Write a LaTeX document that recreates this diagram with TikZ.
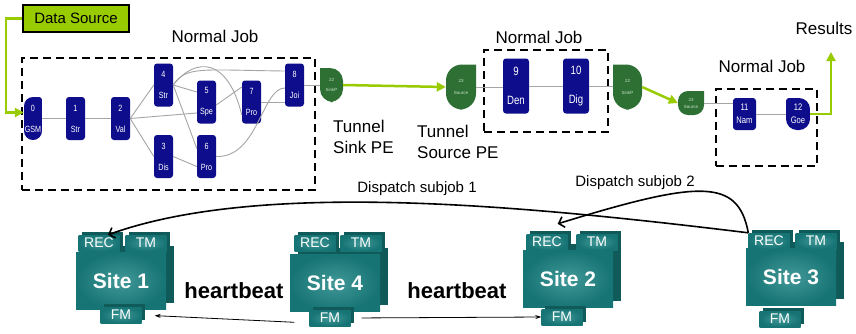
\documentclass[tikz,border=0pt]{standalone}
\usepackage{fontspec}
\setmainfont{Liberation Sans}
\newfontfamily\pefont[FakeStretch=0.8]{Liberation Sans}
\usepackage{tikz}
\usetikzlibrary{arrows.meta,shadows}
\definecolor{peblue}{RGB}{14, 14, 140}
\definecolor{tungreen}{RGB}{46, 112, 52}
\definecolor{tuntext}{RGB}{200, 225, 200}
\definecolor{lime}{RGB}{153, 204, 0}
\definecolor{siteteal}{RGB}{22, 116, 116}
\definecolor{sitelight}{RGB}{66, 152, 152}
\definecolor{sitedark}{RGB}{16, 90, 90}
\definecolor{linkgray}{RGB}{165, 165, 165}

\begin{document}
\begin{tikzpicture}[x=1pt, y=-1pt,
	dleft/.style 2 args = {rectangle, path picture={\fill[#1, sharp corners] (path picture bounding box.north east)
		[rounded corners=#2] -- (path picture bounding box.north west) -- (path picture bounding box.south west)
		-- (path picture bounding box.south east) [sharp corners] -- cycle;}},
	dright/.style 2 args = {rectangle, path picture={\fill[#1, sharp corners] (path picture bounding box.north west)
		[rounded corners=#2] -- (path picture bounding box.north east) -- (path picture bounding box.south east)
		-- (path picture bounding box.south west) [sharp corners] -- cycle;}},
	pe/.style = {rectangle, rounded corners=3pt, fill=peblue, text=white, inner sep=0pt, align=center,
		minimum width=19pt, minimum height=43pt, font=\pefont\fontsize{9}{9}\selectfont},
	bigpe/.style = {pe, minimum width=26pt, minimum height=55pt, font=\pefont\fontsize{12}{12}\selectfont},
	smallpe/.style = {pe, minimum width=23pt, minimum height=32pt, font=\pefont\fontsize{9.5}{10}\selectfont},
	tunnel/.style = {rectangle, text=tuntext, inner sep=0pt, align=center, font=\fontsize{4.5}{5}\selectfont},
	sinkpe/.style = {tunnel, dright={tungreen}{#1}},
	sourcepe/.style = {tunnel, dleft={tungreen}{#1}},
	job/.style = {draw, line width=2.2pt, dash pattern=on 8pt off 5pt, inner sep=0pt},
	caption/.style = {inner sep=0pt, font=\fontsize{17}{21}\selectfont},
	note/.style = {inner sep=0pt, font=\fontsize{15}{18}\selectfont},
	beatlbl/.style = {inner sep=0pt, font=\fontsize{22}{22}\selectfont\bfseries},
	sitebox/.style = {rectangle, inner sep=0pt, inner color=sitelight, outer color=siteteal, text=white,
		minimum width=90pt, minimum height=57pt, font=\fontsize{21}{21}\selectfont\bfseries,
		general shadow={fill=sitedark, shadow xshift=8pt, shadow yshift=7pt}},
	tab/.style = {rectangle, inner sep=0pt, inner color=sitelight, outer color=siteteal, text=white,
		minimum width=41pt, minimum height=16pt, font=\fontsize{14}{14}\selectfont,
		general shadow={fill=sitedark, shadow xshift=3pt, shadow yshift=3pt}},
	link/.style = {draw=linkgray, line width=0.9pt},
	feed/.style = {draw=lime, line width=2.5pt, -{Triangle[length=9pt, width=9pt]}},
	dispatch/.style = {draw=black, line width=1.6pt, -{Straight Barb[length=5pt, width=11pt]}},
	beat/.style = {draw=black, line width=0.8pt, -{Stealth[length=6pt, width=4pt]}}]
\useasboundingbox[fill=white] (0,0) rectangle (856,333);

% the three jobs
\node[job, minimum width=293pt, minimum height=132pt] (job1) at (168.5,124) {};
\node[job, minimum width=124pt, minimum height=82pt] (job2) at (546,91) {};
\node[job, minimum width=101pt, minimum height=77pt] (job3) at (766.5,127.5) {};
\node[caption] (job1lbl) at (215,36) {Normal Job};
\node[caption] (job2lbl) at (539,37) {Normal Job};
\node[caption] (job3lbl) at (762,66) {Normal Job};

\node[draw=black, fill=lime, line width=2pt, minimum width=106pt, minimum height=27pt, inner sep=0pt,
	font=\fontsize{15}{15}\selectfont] (ds) at (76,18.5) {Data Source};

% first job
\node[pe, fill=none, dleft={peblue}{9pt}, minimum width=18pt] (n0) at (33,118.5) {0\\[12pt]GSM};
\node[pe] (n1) at (75.5,118.5) {1\\[12pt]Str};
\node[pe] (n2) at (120.5,118.5) {2\\[12pt]Val};
\node[pe] (n4) at (163.5,85) {4\\[12pt]Str};
\node[pe] (n3) at (163.5,156.5) {3\\[12pt]Dis};
\node[pe] (n5) at (206.5,102) {5\\[12pt]Spe};
\node[pe] (n6) at (206.5,156.5) {6\\[12pt]Pro};
\node[pe] (n7) at (251.5,102) {7\\[12pt]Pro};
\node[pe] (n8) at (294.5,85) {8\\[12pt]Joi};
\node[sinkpe=13pt, minimum width=23pt, minimum height=34pt] (snk1) at (331.5,85) {22\\[5pt]SinkP};

\draw[link] (n0.east) -- (n1.west);
\draw[link] (n1.east) -- (n2.west);
\draw[link] (n2.east) -- (n4.west);
\draw[link] (n2.east) -- (n3.west);
\draw[link] (n2.east) -- ([yshift=-11pt]n5.west);
\draw[link] (n4.east) -- ([yshift=10pt]n5.west);
\draw[link] (n4.east) -- ([yshift=8pt]n6.west);
\draw[link] (n4.east) .. controls (186,66) and (200,70) .. ([yshift=14pt]n8.west);
\draw[link] (n4.east) .. controls (196,56) and (228,58) .. ([yshift=-13pt]n7.west);
\draw[link] (n3.east) -- ([yshift=-10pt]n6.west);
\draw[link] ([yshift=-3pt]n5.east) -- ([yshift=15pt]n7.west);
\draw[link] (n7.east) -- (n8.west |- n7.east);
\draw[link] (n6.east) .. controls (258,158) and (262,88) .. ([yshift=-3pt]n8.west);
\draw[link] (n8.east) -- (snk1.west);

% second job
\node[sourcepe=16pt, minimum width=30pt, minimum height=45pt] (src1) at (461,87) {23\\[7pt]Source};
\node[bigpe] (n9) at (516,86) {9\\[17pt]Den};
\node[bigpe] (n10) at (576,86) {10\\[17pt]Dig};
\node[sinkpe=16pt, minimum width=29pt, minimum height=45pt] (snk2) at (627.5,87) {22\\[7pt]SinkP};
\draw[link] (src1.east) -- (n9.west |- src1.east);
\draw[link] (n9.east) -- (n10.west);
\draw[link] (n10.east) -- (snk2.west |- n10.east);

% third job
\node[sourcepe=10pt, minimum width=26pt, minimum height=24pt] (src2) at (691,103) {23\\[2pt]Source};
\node[smallpe] (n11) at (744.5,114) {11\\[3pt]Nam};
\node[smallpe, fill=none, dright={peblue}{11pt}, minimum width=24pt] (n12) at (798,114) {12\\[3pt]Goe};
\draw[link] (src2.east) -- (n11.west |- src2.east);
\draw[link] (n11.east) -- (n12.west);

% tunnels and data flow
\draw[feed] (ds.west) -- ++(-16,0) |- ([yshift=6pt]n0.west);
\draw[feed] (snk1.east) -- (src1.west);
\draw[feed] (snk2.east) -- (src2.west);
\coordinate (res) at (831,52);
\draw[feed] (n12.east) -| (res);
\node[caption] (reslbl) at (824,28) {Results};
\node[caption, anchor=west, align=left] (sinklbl) at (333,137) {Tunnel\\Sink PE};
\node[caption, anchor=west, align=left] (srclbl) at (417,142) {Tunnel\\Source PE};

% sites
\node[sitebox] (s1) at (121,281) {Site 1};
\node[tab] (s1rec) at (99,243) {REC};
\node[tab] (s1tm) at (146,243) {TM};
\node[tab] (s1fm) at (121,315) {FM};

\node[sitebox] (s4) at (335,283) {Site 4};
\node[tab] (s4rec) at (315,243) {REC};
\node[tab] (s4tm) at (361,243) {TM};
\node[tab] (s4fm) at (330,318) {FM};

\node[sitebox] (s2) at (568,279) {Site 2};
\node[tab] (s2rec) at (547,242) {REC};
\node[tab] (s2tm) at (597,242) {TM};
\node[tab] (s2fm) at (562,317) {FM};

\node[sitebox] (s3) at (791,277) {Site 3};
\node[tab] (s3rec) at (769,241) {REC};
\node[tab] (s3tm) at (816,241) {TM};
\node[tab] (s3fm) at (780,319) {FM};

\node[beatlbl] (beat1) at (234,291) {heartbeat};
\node[beatlbl] (beat2) at (457,291) {heartbeat};
\node[note] (d1lbl) at (417,189) {Dispatch subjob 1};
\node[note] (d2lbl) at (635,183) {Dispatch subjob 2};

\draw[dispatch] (s3rec.north west) .. controls (520,205) and (260,180) .. ([xshift=9pt]s1rec.north);
\draw[dispatch] (s3rec.north west) .. controls (738,178) and (700,180) .. ([xshift=-10pt, yshift=10pt]s2rec.north east);
\draw[beat, shorten <=15pt, shorten >=13pt] ([yshift=-5pt]s4fm.west) -- (s1fm.east);
\draw[beat, shorten <=11pt] (s4fm.east) -- (s2fm.west);
\end{tikzpicture}
\end{document}
